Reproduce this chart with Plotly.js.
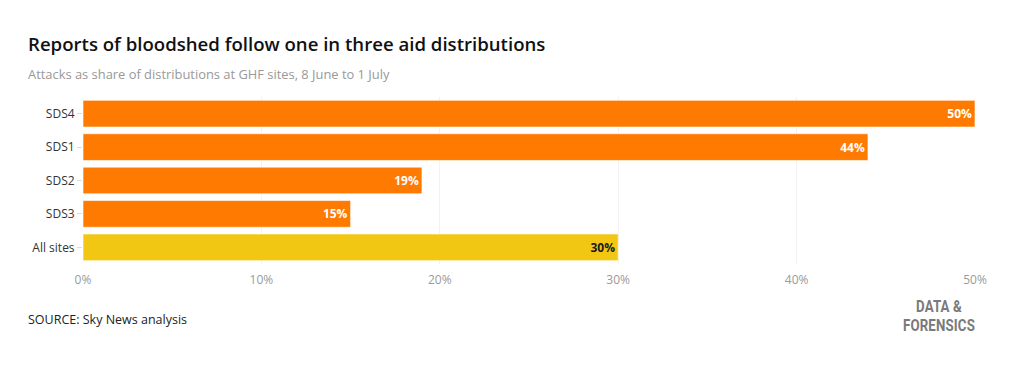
<!DOCTYPE html>
<html><head><meta charset="utf-8">
<script src="https://cdn.plot.ly/plotly-3.0.1.min.js"></script>
<style>
body{margin:0;background:#fff}
#wrap{position:relative;width:1020px;height:370px}
#c{width:1020px;height:370px}
.logo{position:absolute;left:889px;width:100px;text-align:center;height:17px;
  font-family:Roboto,"Noto Sans",sans-serif;font-weight:700;font-size:17px;line-height:17px;color:#7a7a7a;
  transform:scaleX(0.78);transform-origin:50% 50%;letter-spacing:0.2px;white-space:nowrap}
</style>
</head><body><div id="wrap"><div id="c"></div>
<div class="logo" style="top:298px">DATA &amp;</div>
<div class="logo" style="top:317px">FORENSICS</div></div>
<script>
const categories = ["SDS4", "SDS1", "SDS2", "SDS3", "All sites"];
const values = [50, 44, 19, 15, 30];
const barColors = ["#ff7a00", "#ff7a00", "#ff7a00", "#ff7a00", "#f2c714"];
const labelColors = ["#ffffff", "#ffffff", "#ffffff", "#ffffff", "#1a1a1a"];
const tickVals = [0, 10, 20, 30, 40, 50];
const tickText = ["0%", "10%", "20%", "30%", "40%", "50%"];

const F = "Open Sans, Noto Sans, sans-serif";
const trace = {
  type: "bar", orientation: "h",
  y: categories, x: values,
  marker: {color: barColors, line: {color: "rgba(255,255,255,0.6)", width: 1}},
  text: values.map(v => v + "%"),
  textposition: "inside", insidetextanchor: "end",
  textfont: {family: F, size: 12, color: labelColors, weight: 700},
  hoverinfo: "none", width: 0.8, cliponaxis: false
};
const layout = {
  width: 1020, height: 370,
  margin: {l: 83, r: 45, t: 97, b: 106},
  paper_bgcolor: "#fff", plot_bgcolor: "#fff",
  showlegend: false,
  title: {text: "Reports of bloodshed follow one in three aid distributions",
    font: {family: F, size: 18.6, color: "#111", weight: 600},
    x: 28/1020, xref: "container", xanchor: "left", y: 1 - 44/370, yref: "container", yanchor: "middle"},
  xaxis: {range: [0, 50], tickvals: tickVals, ticktext: tickText,
    showgrid: true, gridcolor: "#f2f2f2", zeroline: false, showline: false,
    tickfont: {family: F, size: 12, color: "#9a9a9a"}, ticks: "", ticklabelstandoff: 7, fixedrange: true},
  yaxis: {autorange: "reversed", type: "category",
    tickfont: {family: F, size: 12, color: "#333"}, ticks: "outside", ticklen: 5,
    tickcolor: "#dddddd", showline: false, showgrid: false, zeroline: false, fixedrange: true},
  annotations: [
    {text: "Attacks as share of distributions at GHF sites, 8 June to 1 July", xref: "paper", yref: "paper",
     x: -57/892, y: 1 + 23/167, xanchor: "left", yanchor: "middle", showarrow: false,
     font: {family: F, size: 12.9, color: "#999"}},
    {text: "SOURCE: Sky News analysis", xref: "paper", yref: "paper",
     x: -57/892, y: -55/167, xanchor: "left", yanchor: "middle", showarrow: false,
     font: {family: F, size: 12.5, color: "#222"}}
  ]
};
Plotly.newPlot("c", [trace], layout, {displayModeBar: false, staticPlot: true});
</script></body></html>
